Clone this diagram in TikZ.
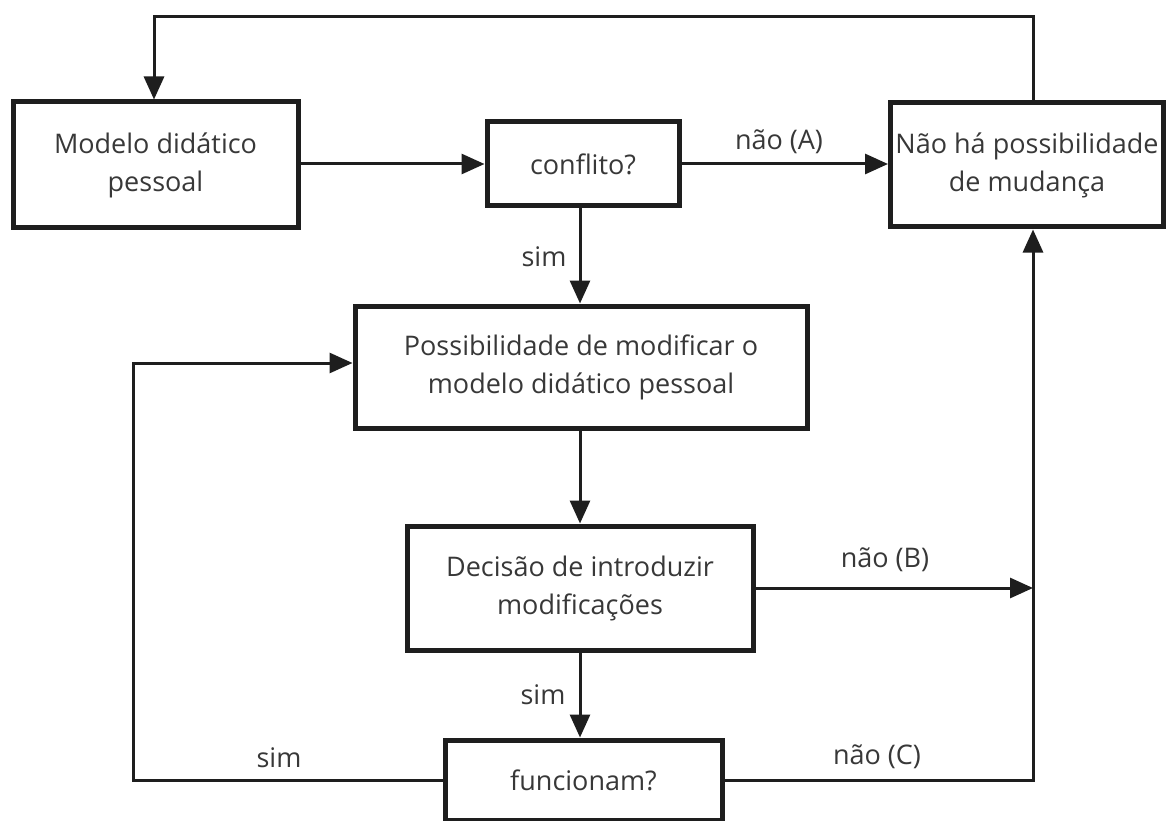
\documentclass[tikz,border=0pt]{standalone}
\usepackage{fontspec}
\setmainfont{Open Sans}
\usetikzlibrary{arrows.meta}
\definecolor{txt}{HTML}{383838}
\definecolor{ln}{HTML}{1E1E1E}
\tikzset{
  box/.style={draw=ln, line width=5pt, align=center, inner sep=0pt, text=txt,
    font=\fontsize{27}{38}\selectfont},
  conn/.style={draw=ln, line width=3pt},
  arr/.style={conn, -{Triangle[length=23pt,width=20pt]}},
  lbl/.style={text=txt, font=\fontsize{27}{30}\selectfont, inner sep=0pt}
}
\begin{document}
\begin{tikzpicture}[x=1pt,y=-1pt]
\useasboundingbox (0,0) rectangle (1167,821);
\fill[white] (0,0) rectangle (1167,821);
\node[box, minimum width=285pt, minimum height=126pt] (modelo) at (155.5,165) {Modelo didático\\pessoal};
\node[box, minimum width=192pt, minimum height=84pt] (conf) at (583,164) {conflito?};
\node[box, minimum width=273pt, minimum height=124pt] (nao) at (1027,165) {Não há possibilidade\\de mudança};
\node[box, minimum width=452pt, minimum height=122pt] (poss) at (581,367) {Possibilidade de modificar o\\modelo didático pessoal};
\node[box, minimum width=346pt, minimum height=124pt] (dec) at (580,588) {Decisão de introduzir\\modificações};
\node[box, minimum width=277pt, minimum height=80pt] (func) at (583.5,780) {funcionam?};
\coordinate (rx) at (1033,0);
\coordinate (lx) at (133,0);
\coordinate (topy) at (0,17);
\coordinate (cx) at (580,0);
% connectors
\draw[arr] (modelo.east |- conf.west) -- (conf.west);
\draw[arr] (conf.east) -- (conf.east -| nao.west);
\draw[arr] (cx |- conf.south) -- (cx |- poss.north);
\draw[arr] (cx |- poss.south) -- (cx |- dec.north);
\draw[arr] (cx |- dec.south) -- (cx |- func.north);
\draw[arr] (dec.east) -- (rx |- dec.east);
\draw[arr] (func.east) -- (rx |- func.east) -- (rx |- nao.south);
\draw[arr] (func.west) -- (lx |- func.west) -- (lx |- 0,363) -- (poss.west |- 0,363);
\draw[arr] (rx |- nao.north) -- (rx |- topy) -- (154,17) -- (154,0 |- modelo.north);
% labels
\node[lbl] (la) at (779,142) {não (A)};
\node[lbl] (ls1) at (544,257) {sim};
\node[lbl] (lb) at (885,560) {não (B)};
\node[lbl] (ls2) at (543,695) {sim};
\node[lbl] (ls3) at (279,758) {sim};
\node[lbl] (lc) at (877,757) {não (C)};
\end{tikzpicture}
\end{document}
